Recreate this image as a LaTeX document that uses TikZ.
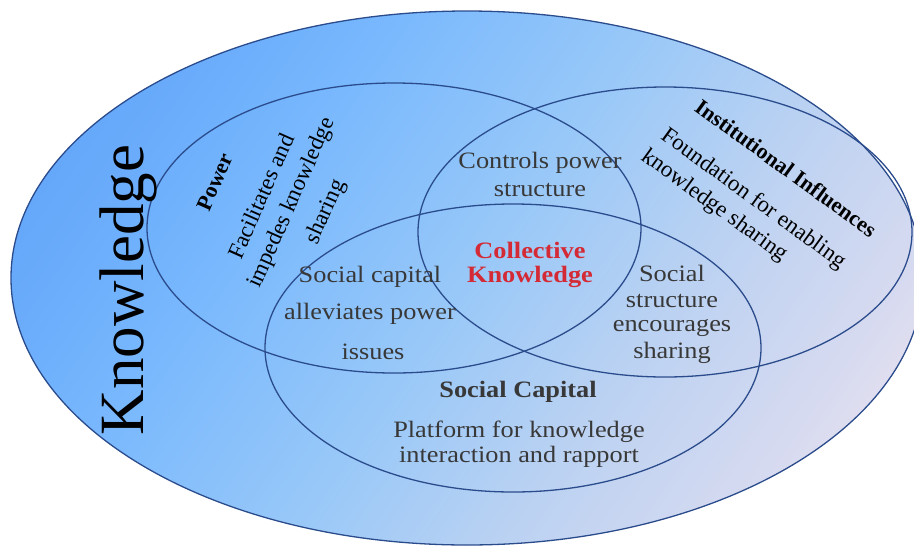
\documentclass[tikz,border=0pt]{standalone}
\usepackage{fontspec}
\setmainfont{Liberation Serif}
\usepackage{xcolor}

% colours of the backdrop, the outlines and the labels
\definecolor{kA}{HTML}{64A6F9}
\definecolor{kB}{HTML}{6EB0FC}
\definecolor{kD}{HTML}{7CBAFD}
\definecolor{kM}{HTML}{98C8F8}
\definecolor{kN}{HTML}{BCD2F2}
\definecolor{kP}{HTML}{D6DAF0}
\definecolor{kC}{HTML}{E2DFF0}
\definecolor{rim}{HTML}{2B4C8C}
\definecolor{greytxt}{HTML}{383838}
\definecolor{ckred}{HTML}{D42A35}

% backdrop gradient, running from the upper left to the lower right
\pgfdeclarehorizontalshading{kshade}{100bp}{%
  color(0bp)=(kA); color(28bp)=(kA); color(34bp)=(kB); color(40bp)=(kD);
  color(50bp)=(kM); color(60bp)=(kN); color(69bp)=(kP);
  color(72bp)=(kC); color(100bp)=(kC)}

\tikzset{
  rimline/.style={draw=rim, line width=1.3pt},
  lbl/.style={inner sep=0pt, align=center},
  side/.style={lbl, font=\fontsize{23}{27}\selectfont},
  sidebold/.style={lbl, font=\fontsize{22}{26}\selectfont\bfseries},
  mid/.style={lbl, xscale=1.12, text=greytxt, font=\fontsize{23.5}{27}\selectfont},
  midbold/.style={lbl, xscale=1.12, text=greytxt, font=\fontsize{23.5}{27}\selectfont\bfseries},
  core/.style={lbl, xscale=1.12, text=ckred, font=\fontsize{23.5}{27}\selectfont\bfseries},
}

\begin{document}
\begin{tikzpicture}[x=1pt, y=-1pt]
  \useasboundingbox (0,0) rectangle (914,547);
  \clip (0,0) rectangle (914,547);

  % knowledge: the enclosing field
  \begin{scope}
    \clip (467,278) ellipse [x radius=456pt, y radius=267pt];
    \shade[shading=kshade, shading angle=-35] (-3,-192) rectangle (937,748);
  \end{scope}
  \draw[rimline] (467,278) ellipse [x radius=456pt, y radius=267pt];

  % the three overlapping spheres
  \draw[rimline] (394,228) ellipse [x radius=247pt, y radius=145pt];
  \draw[rimline] (665,232) ellipse [x radius=247pt, y radius=145pt];
  \draw[rimline] (513,348) ellipse [x radius=248pt, y radius=144pt];

  % field title
  \node[lbl, anchor=base, rotate=90, font=\fontsize{63}{68}\selectfont]
    (knowledge) at (143,290) {Knowledge};

  % power
  \node[sidebold, rotate=66] (power) at (215,182) {Power};
  \node[side, rotate=66] (pw1) at (261,196) {Facilitates and};
  \node[side, rotate=66] (pw2) at (292,203) {impedes knowledge};
  \node[side, rotate=66] (pw3) at (326,212) {sharing};

  % institutional influences
  \node[sidebold, rotate=-36] (inst) at (786,168) {Institutional Influences};
  \node[side, rotate=-36] (in1) at (753,199) {Foundation for enabling};
  \node[side, rotate=-36] (in2) at (714,206) {knowledge sharing};

  % overlaps
  \node[mid] (ctl1) at (540,163) {Controls power};
  \node[mid] (ctl2) at (540,190) {structure};

  \node[mid] (sc1) at (370,277) {Social capital};
  \node[mid] (sc2) at (370,314) {alleviates power};
  \node[mid] (sc3) at (373,352) {issues};

  \node[mid] (ss1) at (672,273) {Social};
  \node[mid] (ss2) at (672,301) {structure};
  \node[mid] (ss3) at (672,328) {encourages};
  \node[mid] (ss4) at (672,353) {sharing};

  % centre
  \node[core] (ck1) at (530,250) {Collective};
  \node[core] (ck2) at (530,277) {Knowledge};

  % social capital
  \node[midbold] (social) at (518,392) {Social Capital};
  \node[mid] (sp1) at (519,432) {Platform for knowledge};
  \node[mid] (sp2) at (519,457) {interaction and rapport};
\end{tikzpicture}
\end{document}
